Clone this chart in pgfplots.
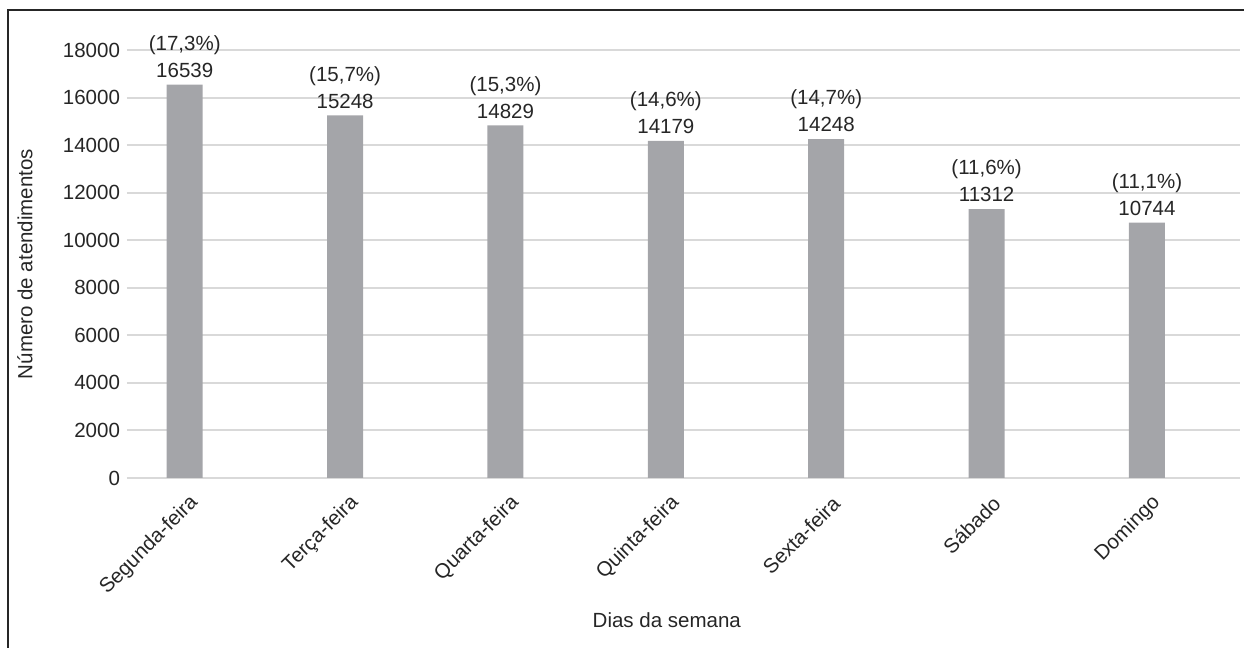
\documentclass[border=0pt]{standalone}
\usepackage{pgfplots}
\pgfplotsset{compat=1.18}
\usepackage{fontspec}
\setmainfont{Liberation Sans}
\definecolor{bargray}{HTML}{A4A5A9}
\definecolor{gridgray}{HTML}{D9D9D9}
\definecolor{txt}{HTML}{262626}
\begin{document}
\begin{tikzpicture}
\path[use as bounding box] (0,0) rectangle (622pt,324pt);
\draw[line width=0.75pt, black!85] (4pt,-1pt) -- (4pt,319pt) -- (623pt,319pt);
\begin{axis}[
  at={(63.5pt,85pt)}, anchor=south west,
  scale only axis, width=556.5pt, height=214pt,
  xmin=-0.36, xmax=6.58, ymin=0, ymax=18000,
  ytick={0,2000,...,18000},
  scaled y ticks=false,
  xtick={0,...,6},
  xticklabels={Segunda-feira,Terça-feira,Quarta-feira,Quinta-feira,Sexta-feira,Sábado,Domingo},
  axis line style={draw=none},
  major tick length=0pt,
  ymajorgrids, grid style={gridgray, line width=1pt},
  yticklabel={\pgfmathprintnumber[fixed,precision=0,1000 sep={},assume math mode=true]{\tick}},
  tick label style={font=\fontsize{10.25}{12}\selectfont, text=txt},
  xticklabel style={xshift=7.5pt, yshift=-8.5pt, rotate=45, anchor=east},
  ylabel={Número de atendimentos},
  ylabel style={at={(axis description cs:-0.0916,0.5)}, anchor=center, font=\fontsize{10.25}{12}\selectfont, text=txt},
  xlabel={Dias da semana},
  xlabel style={at={(axis description cs:0.485,-0.332)}, anchor=center, font=\fontsize{10.25}{12}\selectfont, text=txt},
]
\addplot[ybar, bar width=18pt, bar shift=0pt, fill=bargray, draw=none,
  point meta=y,
  visualization depends on={value \thisrow{pct} \as \pct},
  nodes near coords={(\pct\%)\\\pgfmathprintnumber[fixed,precision=0,1000 sep={},assume math mode=true]{\pgfplotspointmeta}},
  nodes near coords style={align=center, anchor=south, font=\fontsize{10.25}{13.5}\selectfont, text=txt},
] table {
x y pct
0 16539 17,3
1 15248 15,7
2 14829 15,3
3 14179 14,6
4 14248 14,7
5 11312 11,6
6 10744 11,1
};
\end{axis}
\end{tikzpicture}
\end{document}
